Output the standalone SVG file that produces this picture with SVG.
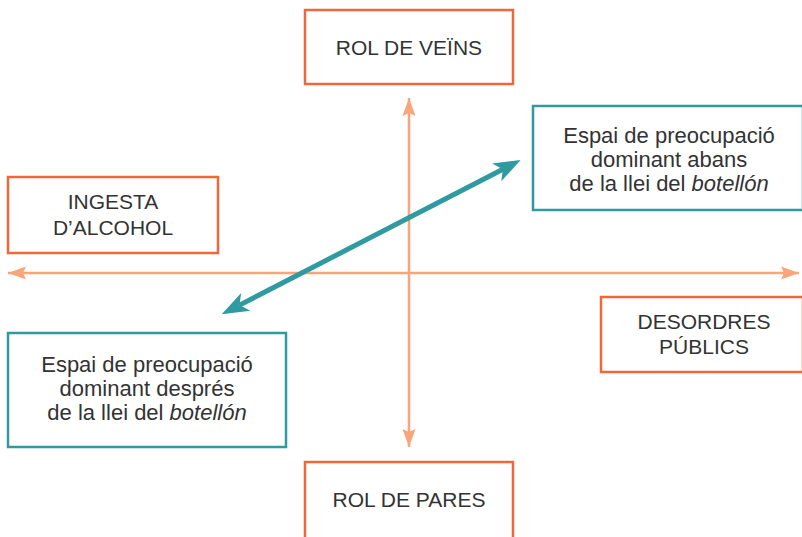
<svg xmlns="http://www.w3.org/2000/svg" width="802" height="537" viewBox="0 0 802 537">
<style>
.ob{fill:#fff;stroke:#f0673a;stroke-width:2.5}
.tb{fill:#fff;stroke:#2f9aa0;stroke-width:2.5}
text{font-family:"Liberation Sans",Arial,sans-serif;fill:#333;text-anchor:middle}
.up{font-size:21px}
.lo{font-size:22px}
.ax{stroke:#f9a57a;stroke-width:2.5;fill:none}
.tl{stroke:#2f9aa0;stroke-width:5;fill:none}
</style>
<defs>
<marker id="ah" markerUnits="userSpaceOnUse" markerWidth="20" markerHeight="14" viewBox="-18 -7 20 14" refX="0" refY="0" orient="auto-start-reverse" overflow="visible">
<path d="M0,0 L-18,-6.5 L-15,0 L-18,6.5 Z" fill="#f9a57a"/>
</marker>
<marker id="th" markerUnits="userSpaceOnUse" markerWidth="30" markerHeight="22" viewBox="-8 -11 30 22" refX="0" refY="0" orient="auto-start-reverse" overflow="visible">
<path d="M20,0 L-7,-10 L0,0 L-7,10 Z" fill="#2f9aa0"/>
</marker>
</defs>
<g id="connectors">
<line class="ax" x1="409" y1="98" x2="409" y2="447" marker-start="url(#ah)" marker-end="url(#ah)"/>
<line class="ax" x1="8" y1="273" x2="799" y2="273" marker-start="url(#ah)" marker-end="url(#ah)"/>
<line class="tl" x1="239.5" y1="305.1" x2="502.9" y2="169.2" marker-start="url(#th)" marker-end="url(#th)"/>
</g>
<g id="rol-veins">
<rect class="ob" x="305" y="10" width="208" height="74"/>
<text class="up" x="409" y="55">ROL DE VEÏNS</text>
</g>
<g id="ingesta">
<rect class="ob" x="8" y="177" width="210" height="76"/>
<text class="up" x="113" y="209">INGESTA</text>
<text class="up" x="113" y="235">D’ALCOHOL</text>
</g>
<g id="desordres">
<rect class="ob" x="601" y="297" width="202" height="75"/>
<text class="up" x="704" y="329">DESORDRES</text>
<text class="up" x="704" y="354">PÚBLICS</text>
</g>
<g id="rol-pares">
<rect class="ob" x="305" y="462" width="208" height="77"/>
<text class="up" x="409" y="507">ROL DE PARES</text>
</g>
<g id="abans">
<rect class="tb" x="533" y="106" width="270" height="104"/>
<text class="lo" x="669" y="143">Espai de preocupació</text>
<text class="lo" x="669" y="167">dominant abans</text>
<text class="lo" x="669" y="191">de la llei del <tspan font-style="italic">botellón</tspan></text>
</g>
<g id="despres">
<rect class="tb" x="8" y="333" width="278" height="114"/>
<text class="lo" x="147" y="372">Espai de preocupació</text>
<text class="lo" x="147" y="396">dominant després</text>
<text class="lo" x="147" y="420">de la llei del <tspan font-style="italic">botellón</tspan></text>
</g>
</svg>
